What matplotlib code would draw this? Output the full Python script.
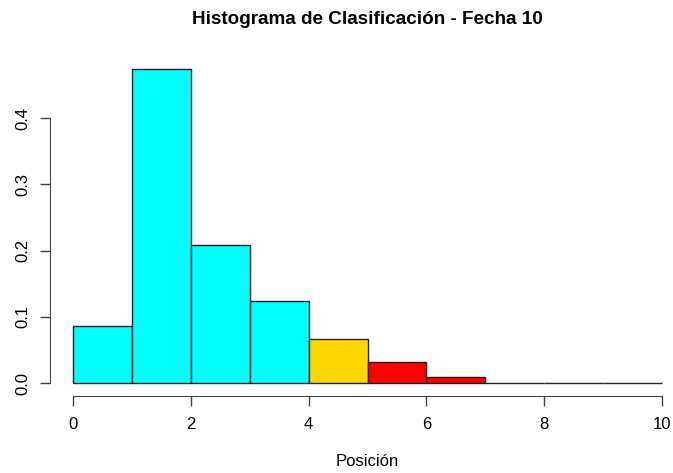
import matplotlib
matplotlib.use("Agg")
import matplotlib.pyplot as plt
import numpy as np

plt.rcParams['font.family'] = ['Liberation Sans', 'DejaVu Sans']

# histogram data (density per bin)
bin_edges = [0, 1, 2, 3, 4, 5, 6, 7, 8, 9, 10]
densities = [0.086, 0.474, 0.209, 0.124, 0.066, 0.031, 0.009, 0.0, 0.0, 0.0]
bar_colors = ['cyan', 'cyan', 'cyan', 'cyan', 'gold', 'red', 'red', 'red', 'red', 'red']

fig = plt.figure(figsize=(6.73, 4.73), dpi=100)
ax = fig.add_axes([73 / 673, (473 - 383) / 473, 589 / 673, (383 - 69) / 473])

lefts = np.array(bin_edges[:-1])
widths = np.diff(bin_edges)
bars = ax.bar(lefts, densities, width=widths, align='edge', color=bar_colors,
              edgecolor='#222222', linewidth=1.0)
for b in bars:
    b.set_clip_on(False)

ax.set_xlim(0, 10)
ax.set_ylim(0, 0.474)

for s in ['top', 'right']:
    ax.spines[s].set_visible(False)
ax.spines['bottom'].set_position(('outward', 9.4))
ax.spines['left'].set_position(('outward', 16.6))
ax.spines['bottom'].set_bounds(0, 10)
ax.spines['left'].set_bounds(0, 0.4)
ax.spines['bottom'].set_color('#444444')
ax.spines['left'].set_color('#444444')

ax.set_xticks([0, 2, 4, 6, 8, 10])
ax.set_yticks([0.0, 0.1, 0.2, 0.3, 0.4])
ax.set_yticklabels(['0.0', '0.1', '0.2', '0.3', '0.4'], rotation=90, va='center')
ax.tick_params(axis='both', length=7, width=1, color='#444444', labelsize=12)
ax.tick_params(axis='x', pad=8)
ax.tick_params(axis='y', pad=7)

ax.set_xlabel('Posición', fontsize=12, labelpad=16)
# title centred over the plot region, like R does
fig.text((73 + 589 / 2) / 673, 1 - 19 / 473, 'Histograma de Clasificación - Fecha 10',
         ha='center', va='center', fontsize=13.6, fontweight='bold')

fig.savefig('out.png', dpi=100)
